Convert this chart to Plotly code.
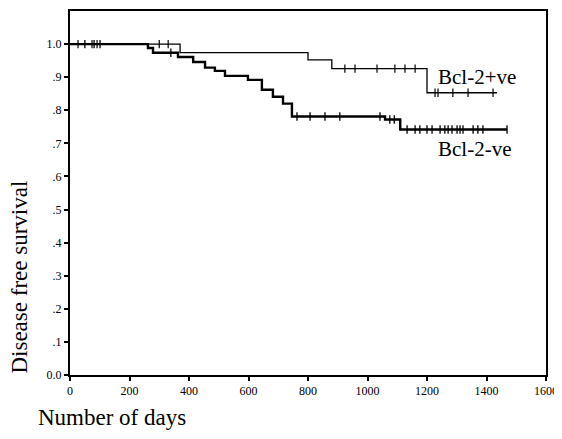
import plotly.graph_objects as go
import numpy as np

# Bcl-2 positive (upper curve)
pos_times = [0, 370, 800, 880, 1200, 1435]
pos_surv = [1.0, 0.974, 0.952, 0.926, 0.853, 0.853]
pos_censor = [27, 74, 91, 300, 330, 924, 958, 1032, 1092, 1126, 1160,
              1227, 1237, 1287, 1338, 1422]

# Bcl-2 negative (lower curve)
neg_times = [0, 262, 279, 363, 414, 454, 487, 521, 598, 645, 682, 716, 746,
             1059, 1110, 1469]
neg_surv = [1.0, 0.988, 0.974, 0.961, 0.946, 0.929, 0.919, 0.904, 0.892,
            0.862, 0.841, 0.820, 0.781, 0.772, 0.742, 0.742]
neg_censor = [50, 81, 101, 339, 763, 807, 857, 907, 1042, 1075, 1090, 1133,
              1160, 1176, 1200, 1217, 1244, 1260, 1271, 1284, 1301, 1311,
              1321, 1355, 1371, 1388, 1469]

x_ticks = [0, 200, 400, 600, 800, 1000, 1200, 1400, 1600]
y_ticks = [0.0, 0.1, 0.2, 0.3, 0.4, 0.5, 0.6, 0.7, 0.8, 0.9, 1.0]
y_tick_labels = ["0.0", ".1", ".2", ".3", ".4", ".5", ".6", ".7", ".8", ".9", "1.0"]

group_labels = ["Bcl-2+ve", "Bcl-2-ve"]


def surv_at(times, surv, t):
    idx = np.searchsorted(np.array(times), t, side="right") - 1
    return [surv[i] for i in idx]


FONT = "Liberation Serif"
fig = go.Figure()

fig.add_trace(go.Scatter(x=neg_times, y=neg_surv, mode="lines",
                         line=dict(shape="hv", color="black", width=2.4),
                         showlegend=False))
fig.add_trace(go.Scatter(x=neg_censor, y=surv_at(neg_times, neg_surv, neg_censor),
                         mode="markers",
                         marker=dict(symbol="line-ns", size=6,
                                     line=dict(color="black", width=1.3)),
                         showlegend=False))
fig.add_trace(go.Scatter(x=pos_times, y=pos_surv, mode="lines",
                         line=dict(shape="hv", color="black", width=1.3),
                         showlegend=False))
fig.add_trace(go.Scatter(x=pos_censor, y=surv_at(pos_times, pos_surv, pos_censor),
                         mode="markers",
                         marker=dict(symbol="line-ns", size=6,
                                     line=dict(color="black", width=1.2)),
                         showlegend=False))

# page has an 8px body margin; plot area targeted at page x 70..546, y 9..375
fig.update_layout(
    width=554, height=423,
    margin=dict(l=62, r=16, t=1, b=56),
    paper_bgcolor="white", plot_bgcolor="white",
    font=dict(family=FONT, color="black"),
    xaxis=dict(range=[0, 1600], tickvals=x_ticks, ticks="outside", ticklen=4,
               tickwidth=2, tickcolor="black", showline=True, linecolor="black",
               linewidth=2, mirror=True, showgrid=False, zeroline=False,
               tickfont=dict(family=FONT, size=12, color="black")),
    yaxis=dict(range=[0, 1.1], tickvals=y_ticks, ticktext=y_tick_labels,
               ticks="outside", ticklen=4, tickwidth=2, tickcolor="black",
               showline=True, linecolor="black", linewidth=2, mirror=True,
               showgrid=False, zeroline=False,
               tickfont=dict(family=FONT, size=12, color="black")),
    annotations=[
        dict(text="Disease free survival", xref="paper", yref="paper",
             x=(20 - 70) / 476, y=(375 - 277) / 366, textangle=-90,
             showarrow=False, xanchor="center", yanchor="middle",
             font=dict(family=FONT, size=23, color="black")),
        dict(text="Number of days", xref="paper", yref="paper",
             x=(112 - 70) / 476, y=(375 - 418) / 366, showarrow=False,
             xanchor="center", yanchor="middle",
             font=dict(family=FONT, size=23, color="black")),
        dict(text=group_labels[0], x=1368, y=0.90, xref="x", yref="y",
             showarrow=False, xanchor="center", yanchor="middle",
             font=dict(family=FONT, size=21, color="black")),
        dict(text=group_labels[1], x=1358, y=0.682, xref="x", yref="y",
             showarrow=False, xanchor="center", yanchor="middle",
             font=dict(family=FONT, size=21, color="black")),
    ],
)

fig.write_html("out.html")
